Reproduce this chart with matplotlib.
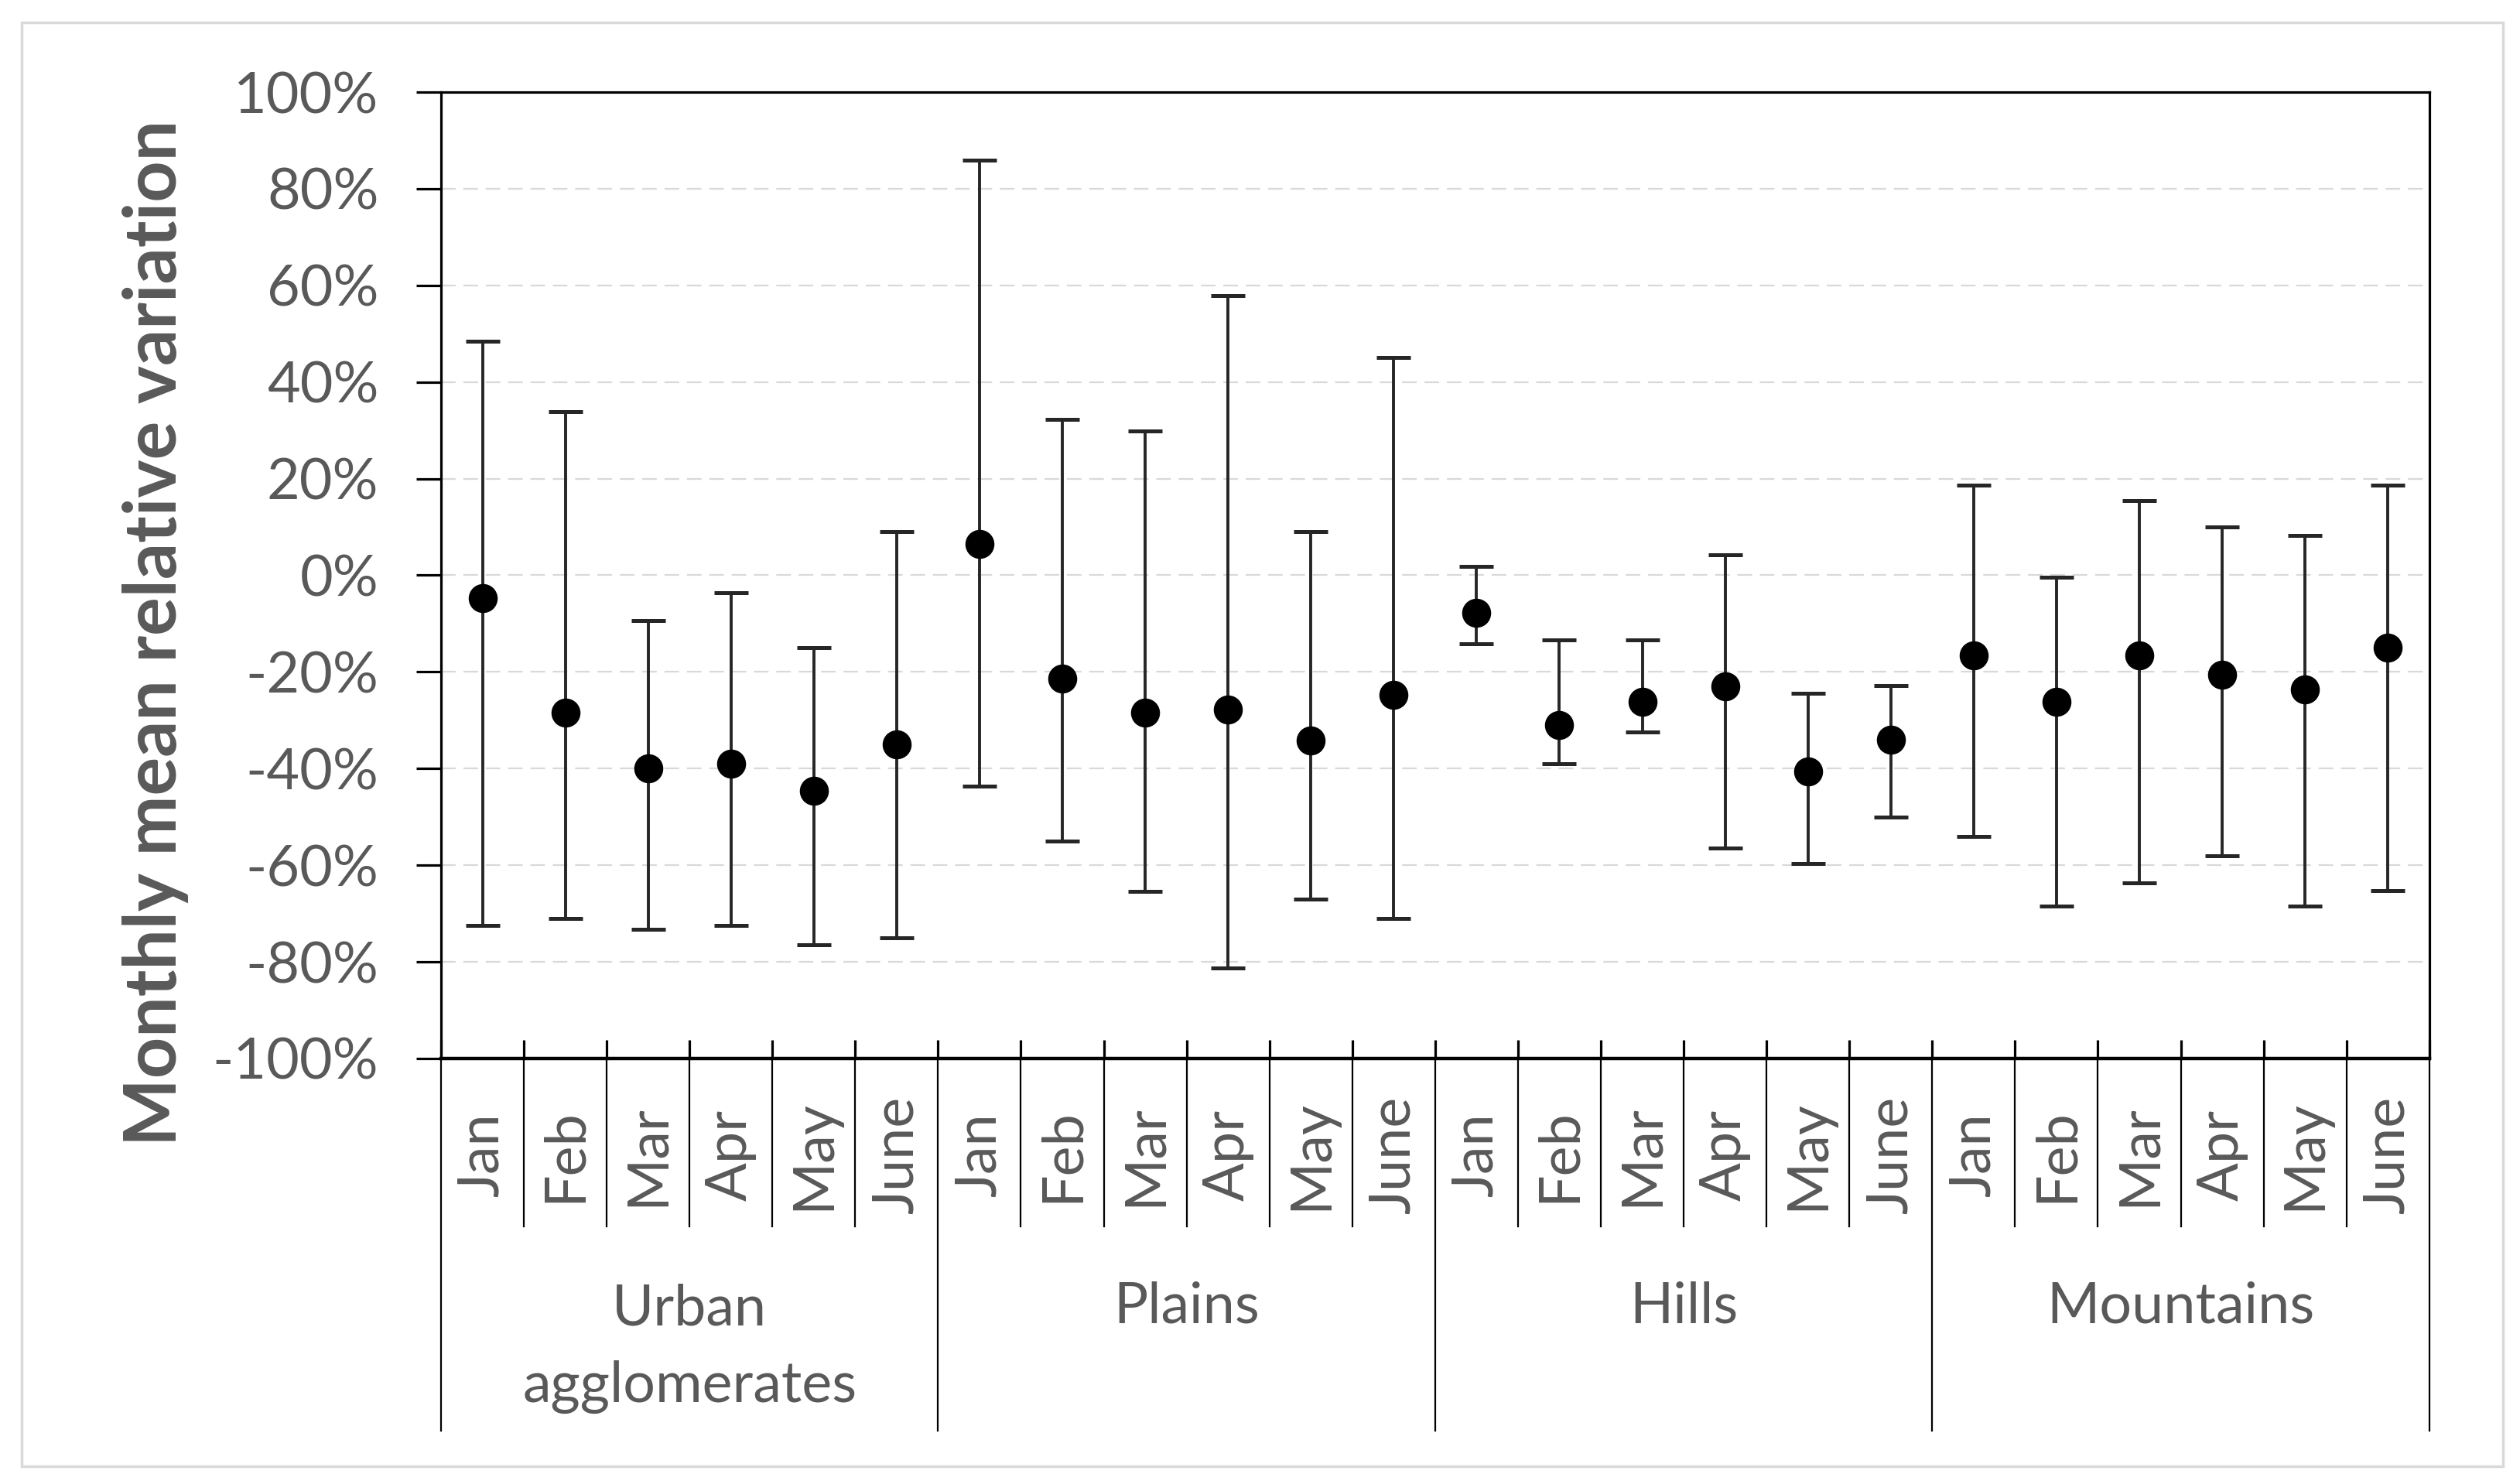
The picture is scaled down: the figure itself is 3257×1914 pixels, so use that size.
import numpy as np
import matplotlib
matplotlib.use("Agg")
import matplotlib.pyplot as plt
from matplotlib.ticker import PercentFormatter
from matplotlib.patches import Rectangle


# --------------------------------------------
# 1. DATA (percent)
# --------------------------------------------

groups = ["Urban\nagglomerates", "Plains", "Hills", "Mountains"]
months = ["Jan", "Feb", "Mar", "Apr", "May", "June"]

mean_vals = [-4.7, -28.5, -39.9, -39.0, -44.6, -35.0,
             6.5, -21.4, -28.5, -27.8, -34.2, -24.7,
             -7.7, -31.0, -26.2, -23.0, -40.6, -34.1,
             -16.6, -26.2, -16.6, -20.6, -23.7, -15.0]

upper_vals = [48.4, 33.9, -9.3, -3.6, -15.0, 9.0,
              85.9, 32.3, 29.9, 57.9, 9.0, 45.0,
              1.9, -13.4, -13.4, 4.3, -24.4, -22.9,
              18.6, -0.4, 15.4, 10.0, 8.3, 18.6]

lower_vals = [-72.4, -71.0, -73.3, -72.4, -76.4, -75.0,
              -43.7, -55.0, -65.4, -81.3, -67.0, -71.0,
              -14.1, -39.0, -32.4, -56.4, -59.6, -50.1,
              -54.1, -68.4, -63.6, -58.1, -68.4, -65.3]

yticks = [-100, -80, -60, -40, -20, 0, 20, 40, 60, 80, 100]


# --------------------------------------------
# 2. FIGURE
# --------------------------------------------

plt.rcParams["font.family"] = ["Lato", "DejaVu Sans"]
plt.rcParams["axes.unicode_minus"] = False
gray_txt = "#595959"

fig = plt.figure(figsize=(32.57, 19.14), dpi=100)
ax = fig.add_axes([0.175, 0.2853, 0.789, 0.6525])

# outer light border
fig.patches.append(Rectangle((0.0086, 0.0099), 0.9847, 0.975,
                             transform=fig.transFigure, fill=False,
                             edgecolor="#d9d9d9", linewidth=2.5))

n = len(mean_vals)
x = np.arange(n)
mean_arr = np.array(mean_vals)
yerr = [mean_arr - np.array(lower_vals), np.array(upper_vals) - mean_arr]

ax.errorbar(x, mean_arr, yerr=yerr, fmt="o", color="black",
            ecolor="#262626", elinewidth=2.8, capsize=16, capthick=3.6,
            markersize=26, zorder=3)


# --------------------------------------------
# 3. AXES
# --------------------------------------------

ax.set_xlim(-0.5, n - 0.5)
ax.set_ylim(-100, 100)
ax.set_yticks(yticks)
ax.yaxis.set_major_formatter(PercentFormatter(decimals=0))

for v in yticks[1:-1]:
    ax.axhline(v, color="#d9d9d9", linewidth=1.6,
               linestyle=(0, (8.5, 4.5)), zorder=1)

for sp in ax.spines.values():
    sp.set_linewidth(2.3)
    sp.set_color("black")
ax.spines["bottom"].set_linewidth(3.2)

ax.tick_params(axis="y", direction="out", length=23, width=2.3,
               pad=35, labelsize=53, labelcolor=gray_txt)

bounds = np.arange(n + 1) - 0.5
ax.set_xticks(bounds)
ax.set_xticklabels([])
ax.tick_params(axis="x", direction="in", length=17, width=2.3)

trans = ax.get_xaxis_transform()

# separators under the axis
for i, b in enumerate(bounds):
    if i % 6 == 0:
        ax.plot([b, b], [0, -0.385], transform=trans, color="black",
                linewidth=1.6, clip_on=False)
    else:
        ax.plot([b, b], [0, -0.174], transform=trans, color="black",
                linewidth=1.6, clip_on=False)

# month labels
for i in range(n):
    ax.text(x[i], -0.1, months[i % 6], transform=trans, rotation=90,
            ha="center", va="center", fontsize=53, color=gray_txt)

# group labels
for g, name in enumerate(groups):
    xc = g * 6 + 2.5
    yc = -0.3 if "\n" in name else -0.257
    ax.text(xc, yc, name, transform=trans, ha="center", va="center",
            fontsize=53, color=gray_txt, linespacing=1.6)

ax.text(-0.1436, 0.44, "Monthly mean relative variation",
        transform=ax.transAxes, rotation=90, ha="center", va="center",
        fontsize=67, fontweight="bold", color=gray_txt)


# --------------------------------------------
# 4. SAVE
# --------------------------------------------

fig.savefig("out.png", dpi=100)
